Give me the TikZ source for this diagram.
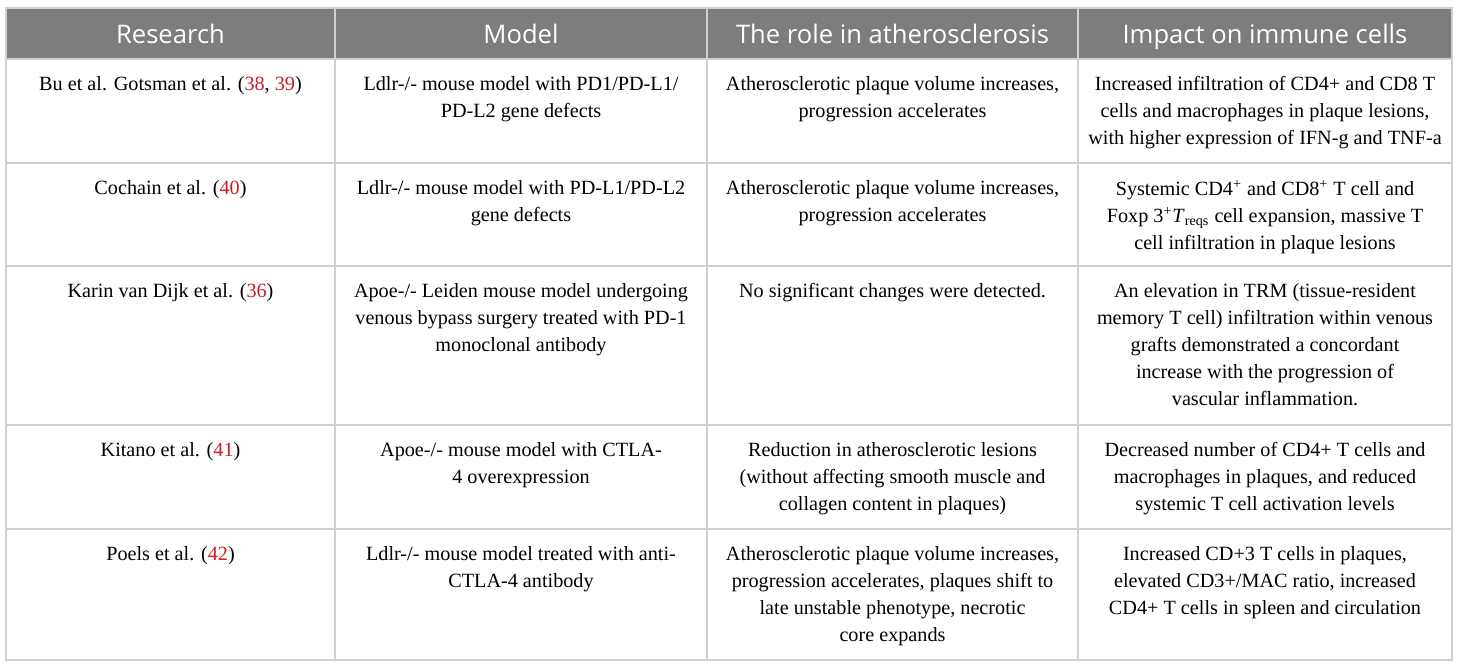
\documentclass[tikz,border=0pt]{standalone}
\usepackage{fontspec}
\setmainfont{Liberation Serif}
\newfontfamily\headfont{Open Sans}
\usetikzlibrary{positioning}

\definecolor{headgray}{RGB}{124,126,125}
\definecolor{rulegray}{RGB}{208,208,208}
\definecolor{refred}{RGB}{200,30,40}
\newcommand{\rf}[1]{\textcolor{refred}{#1}}

\begin{document}
\begin{tikzpicture}
[x=0.5pt,y=-0.5pt,
every node/.style={inner sep=0pt,align=center,anchor=north},
cell/.style={font=\fontsize{10.1}{13.5}\selectfont},
head/.style={font=\headfont\fontsize{12.8}{15}\selectfont,text=white,anchor=base},
rule/.style={draw=rulegray,line width=0.6pt}]
\useasboundingbox (0,0) rectangle (1460,668);
\fill[headgray] (6,8) rectangle (1452,59);
\foreach \y in {59,163,266,425,529} \draw[rule] (6,\y) -- (1452,\y);
\foreach \x in {335,707,1078} \draw[rule] (\x,8) -- (\x,660);
\draw[rule] (6,8) rectangle (1452,660);
% header
\node[head] (hres) at (170.5,44) {Research};
\node[head] (hmod) at (521,44) {Model};
\node[head] (hrole) at (892.5,44) {The role in atherosclerosis};
\node[head] (himp) at (1265,44) {Impact on immune cells};
% row 1
\node[cell] (res1) at (170.5,76) {Bu et al. Gotsman et al. (\rf{38}, \rf{39})};
\node[cell] (mod1) at (521,76) {Ldlr-/- mouse model with PD1/PD-L1/\\PD-L2 gene defects};
\node[cell] (role1) at (892.5,76) {Atherosclerotic plaque volume increases,\\progression accelerates};
\node[cell] (imp1) at (1265,76) {Increased infiltration of CD4+ and CD8 T\\cells and macrophages in plaque lesions,\\with higher expression of IFN-g and TNF-a};
% row 2
\node[cell] (res2) at (170.5,180) {Cochain et al. (\rf{40})};
\node[cell] (mod2) at (521,180) {Ldlr-/- mouse model with PD-L1/PD-L2\\gene defects};
\node[cell] (role2) at (892.5,180) {Atherosclerotic plaque volume increases,\\progression accelerates};
\node[cell] (imp2) at (1265,180) {Systemic CD4\textsuperscript{+} and CD8\textsuperscript{+} T cell and\\Foxp 3\textsuperscript{+}\textit{T}\textsubscript{reqs} cell expansion, massive T\\cell infiltration in plaque lesions};
% row 3
\node[cell] (res3) at (170.5,283) {Karin van Dijk et al. (\rf{36})};
\node[cell] (mod3) at (521,283) {Apoe-/- Leiden mouse model undergoing\\venous bypass surgery treated with PD-1\\monoclonal antibody};
\node[cell] (role3) at (892.5,283) {No significant changes were detected.};
\node[cell] (imp3) at (1265,283) {An elevation in TRM (tissue-resident\\memory T cell) infiltration within venous\\grafts demonstrated a concordant\\increase with the progression of\\vascular inflammation.};
% row 4
\node[cell] (res4) at (170.5,442) {Kitano et al. (\rf{41})};
\node[cell] (mod4) at (521,442) {Apoe-/- mouse model with CTLA-\\4 overexpression};
\node[cell] (role4) at (892.5,442) {Reduction in atherosclerotic lesions\\(without affecting smooth muscle and\\collagen content in plaques)};
\node[cell] (imp4) at (1265,442) {Decreased number of CD4+ T cells and\\macrophages in plaques, and reduced\\systemic T cell activation levels};
% row 5
\node[cell] (res5) at (170.5,546) {Poels et al. (\rf{42})};
\node[cell] (mod5) at (521,546) {Ldlr-/- mouse model treated with anti-\\CTLA-4 antibody};
\node[cell] (role5) at (892.5,546) {Atherosclerotic plaque volume increases,\\progression accelerates, plaques shift to\\late unstable phenotype, necrotic\\core expands};
\node[cell] (imp5) at (1265,546) {Increased CD+3 T cells in plaques,\\elevated CD3+/MAC ratio, increased\\CD4+ T cells in spleen and circulation};
\end{tikzpicture}
\end{document}
